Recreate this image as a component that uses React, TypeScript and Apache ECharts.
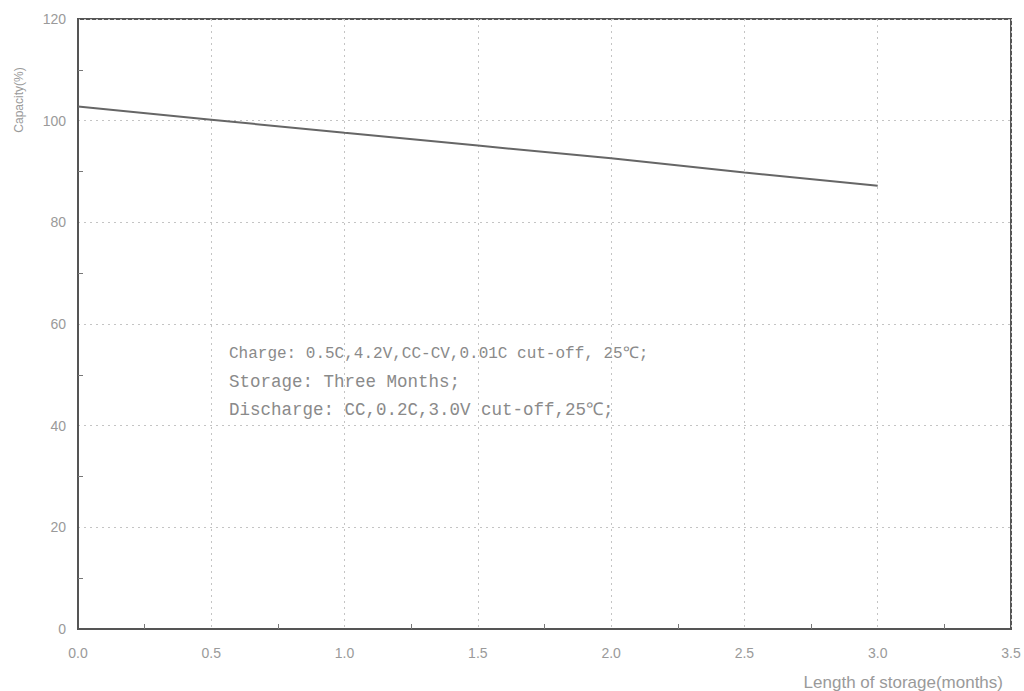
import React, { useEffect, useRef } from "react";
import * as echarts from "echarts";

const months = [0, 0.5, 1.0, 1.5, 2.0, 2.5, 3.0];
const capacity = [102.8, 100.2, 97.6, 95.1, 92.6, 89.8, 87.2];
const xAxisName = "Length of storage(months)";
const yAxisName = "Capacity(%)";
const noteLines = [
  "Charge: 0.5C,4.2V,CC-CV,0.01C cut-off, 25℃;",
  "Storage: Three Months;",
  "Discharge: CC,0.2C,3.0V cut-off,25℃;",
];
const noteSizes = [16, 17.5, 17.5];

export default function App() {
  const ref = useRef<HTMLDivElement>(null);
  useEffect(() => {
    if (!ref.current) return;
    const chart = echarts.init(ref.current, null, { renderer: "svg" });
    const data = months.map((m, i) => [m, capacity[i]]);
    chart.setOption({
      animation: false,
      backgroundColor: "#ffffff",
      grid: {
        left: 78,
        right: 13,
        top: 19,
        bottom: 62,
        show: true,
        borderColor: "#555",
        borderWidth: 2,
      },
      xAxis: {
        type: "value",
        min: 0,
        max: 3.5,
        interval: 0.5,
        axisLine: { show: true, lineStyle: { color: "#555", width: 2 } },
        axisTick: { show: false },
        minorTick: { show: true, splitNumber: 2, length: -5, lineStyle: { color: "#777" } },
        axisLabel: {
          color: "#9a9a9a",
          fontSize: 14,
          fontFamily: "Liberation Sans",
          margin: 17,
          formatter: (v: number) => v.toFixed(1),
        },
        splitLine: { show: true, lineStyle: { color: "#c4c4c4", type: [2, 4], width: 1 } },
      },
      yAxis: {
        type: "value",
        min: 0,
        max: 120,
        interval: 20,
        axisLine: { show: true, lineStyle: { color: "#555", width: 2 } },
        axisTick: { show: false },
        minorTick: { show: true, splitNumber: 2, length: -5, lineStyle: { color: "#777" } },
        axisLabel: {
          color: "#9a9a9a",
          fontSize: 14,
          fontFamily: "Liberation Sans",
          margin: 12,
        },
        splitLine: { show: true, lineStyle: { color: "#c4c4c4", type: [2, 4], width: 1 } },
      },
      graphic: [
        {
          type: "text",
          x: 19,
          y: 100,
          rotation: Math.PI / 2,
          style: {
            text: yAxisName,
            fill: "#9a9a9a",
            fontSize: 12,
            fontFamily: "Liberation Sans",
            align: "center",
            verticalAlign: "middle",
          },
        },
        {
          type: "text",
          x: 1003,
          y: 682,
          style: {
            text: xAxisName,
            fill: "#9a9a9a",
            fontSize: 17,
            fontFamily: "Liberation Sans",
            align: "right",
            verticalAlign: "middle",
          },
        },
        ...noteLines.map((t, i) => ({
          type: "text",
          x: 229,
          y: 354 + i * 28,
          style: {
            text: t,
            fill: "#8a8a8a",
            fontSize: noteSizes[i],
            fontFamily: "Liberation Mono",
            align: "left",
            verticalAlign: "middle",
          },
        })),
      ],
      series: [
        {
          type: "line",
          data,
          showSymbol: false,
          symbol: "none",
          lineStyle: { color: "#666", width: 2 },
        },
      ],
    });
    return () => chart.dispose();
  }, []);
  return (
    <div
      ref={ref}
      style={{ position: "fixed", left: 0, top: 0, width: 1024, height: 691 }}
    />
  );
}
